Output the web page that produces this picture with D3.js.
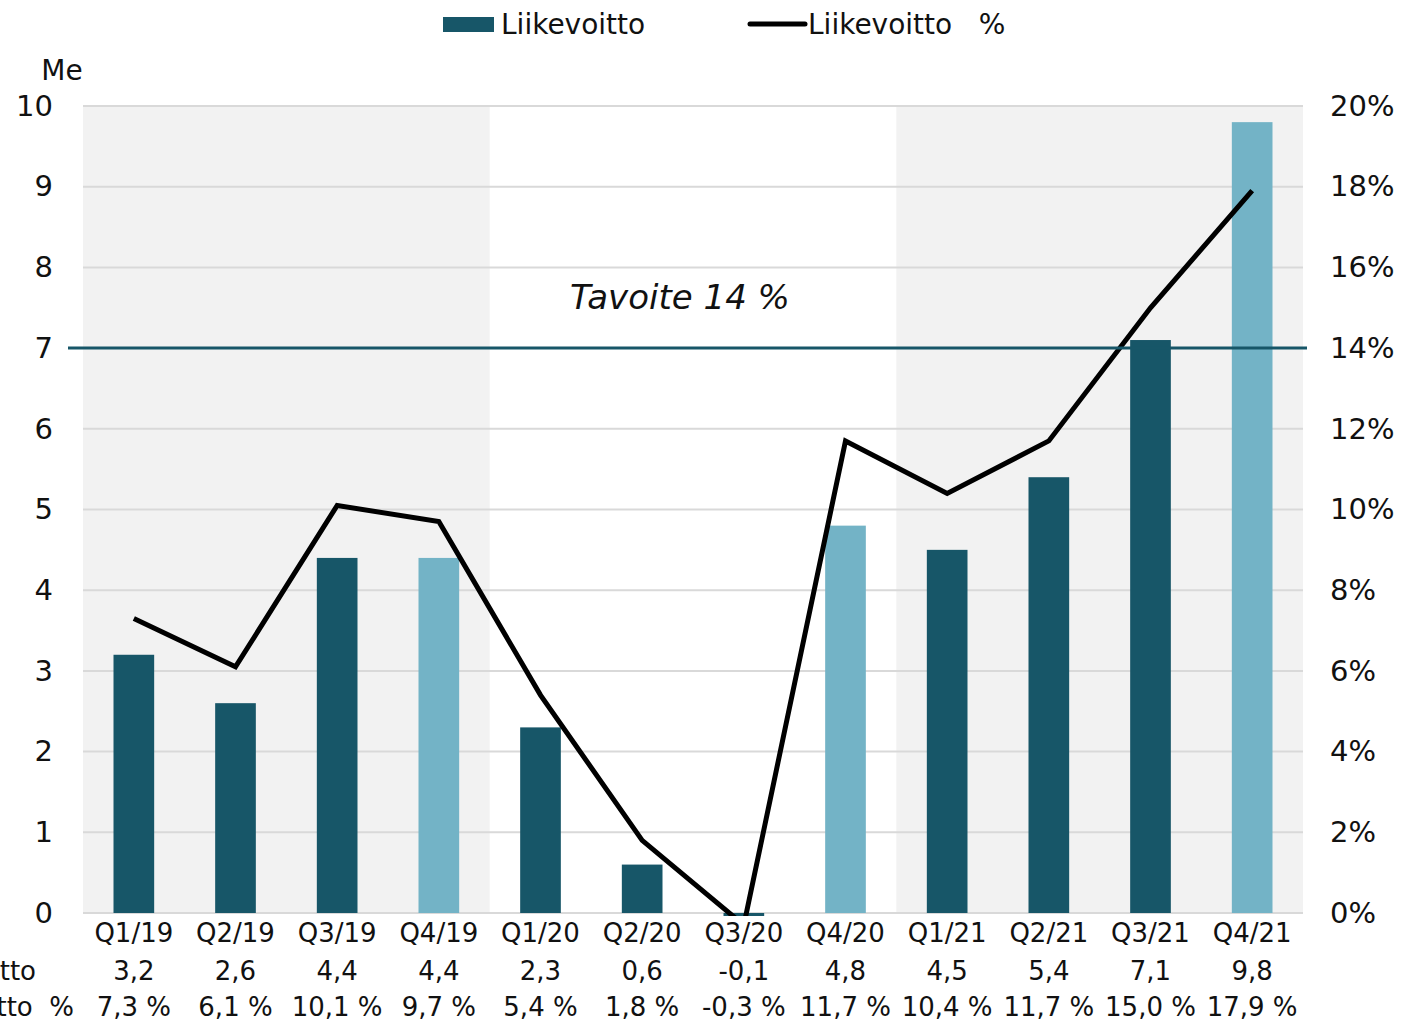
<!DOCTYPE html>
<html>
<head>
<meta charset="utf-8">
<script src="https://cdn.jsdelivr.net/npm/d3@7"></script>
<style>
  body { margin: 0; background: #fff; }
  svg { display: block; font-family: "DejaVu Sans", sans-serif; }
</style>
</head>
<body>
<div class="chart"></div>
<script>
// DATA
var quarters = ['Q1/19', 'Q2/19', 'Q3/19', 'Q4/19', 'Q1/20', 'Q2/20', 'Q3/20', 'Q4/20', 'Q1/21', 'Q2/21', 'Q3/21', 'Q4/21'];
var profit = [3.2, 2.6, 4.4, 4.4, 2.3, 0.6, -0.1, 4.8, 4.5, 5.4, 7.1, 9.8];
var profitPct = [7.3, 6.1, 10.1, 9.7, 5.4, 1.8, -0.3, 11.7, 10.4, 11.7, 15.0, 17.9];
var profitLabels = ['3,2', '2,6', '4,4', '4,4', '2,3', '0,6', '-0,1', '4,8', '4,5', '5,4', '7,1', '9,8'];
var pctLabels = ['7,3 %', '6,1 %', '10,1 %', '9,7 %', '5,4 %', '1,8 %', '-0,3 %', '11,7 %', '10,4 %', '11,7 %', '15,0 %', '17,9 %'];
var leftTicks = [0, 1, 2, 3, 4, 5, 6, 7, 8, 9, 10];
var rightTicks = [0, 2, 4, 6, 8, 10, 12, 14, 16, 18, 20];
var targetPct = 14;
var yearBands = [['Q1/19', 'Q4/19'], ['Q1/21', 'Q4/21']];
var lightBars = ['Q4/19', 'Q4/20', 'Q4/21'];

var W = 1402, H = 1023;
var plotLeft = 83, plotRight = 1303, plotTop = 106, plotBottom = 913;

var svg = d3.select('.chart').append('svg')
  .attr('width', W)
  .attr('height', H);

// values below zero get cut at the axis, like in the original
svg.append('clipPath').attr('id', 'plotclip')
  .append('rect')
  .attr('x', 0).attr('y', 0)
  .attr('width', W).attr('height', plotBottom + 3);

var x = d3.scaleBand().domain(quarters).range([plotLeft, plotRight]).paddingInner(0.6).paddingOuter(0.3);
var xStep = d3.scaleBand().domain(quarters).range([plotLeft, plotRight]);
var y = d3.scaleLinear().domain([0, 10]).range([plotBottom, plotTop]);
var y2 = d3.scaleLinear().domain([0, 20]).range([plotBottom, plotTop]);

// shaded years
svg.selectAll('rect.band')
  .data(yearBands)
  .enter()
  .append('rect')
  .attr('x', function (d) { return xStep(d[0]); })
  .attr('width', function (d) { return xStep(d[1]) + xStep.bandwidth() - xStep(d[0]); })
  .attr('y', y(10))
  .attr('height', y(0) - y(10))
  .attr('fill', '#f2f2f2');

// gridlines
svg.selectAll('line.grid')
  .data(leftTicks)
  .enter()
  .append('line')
  .attr('x1', plotLeft)
  .attr('x2', plotRight)
  .attr('y1', function (d) { return y(d); })
  .attr('y2', function (d) { return y(d); })
  .attr('stroke', '#d9d9d9')
  .attr('stroke-width', 2);

var plot = svg.append('g').attr('clip-path', 'url(#plotclip)');

// bars
plot.selectAll('rect.bar')
  .data(quarters)
  .enter()
  .append('rect')
  .attr('x', function (d) { return x(d); })
  .attr('width', x.bandwidth())
  .attr('y', function (d, i) { return y(Math.max(0, profit[i])); })
  .attr('height', function (d, i) { return Math.abs(y(profit[i]) - y(0)); })
  .attr('fill', function (d) { return lightBars.indexOf(d) >= 0 ? '#73b3c6' : '#175668'; });

// target line
svg.append('line')
  .attr('x1', 68)
  .attr('x2', 1307)
  .attr('y1', y2(targetPct))
  .attr('y2', y2(targetPct))
  .attr('stroke', '#175668')
  .attr('stroke-width', 3);

svg.append('text')
  .attr('x', 680)
  .attr('y', 309)
  .attr('text-anchor', 'middle')
  .attr('font-size', 34)
  .attr('font-style', 'italic')
  .attr('fill', '#111')
  .text('Tavoite 14 %');

// pct line
var line = d3.line()
  .x(function (d, i) { return x(quarters[i]) + x.bandwidth() / 2; })
  .y(function (d) { return y2(d); });

plot.append('path')
  .datum(profitPct)
  .attr('d', line)
  .attr('fill', 'none')
  .attr('stroke', '#000')
  .attr('stroke-width', 5);

// left axis
var yAxis = svg.append('g')
  .attr('transform', 'translate(53,0)')
  .call(d3.axisLeft(y).tickValues(leftTicks).tickSize(0).tickPadding(0));
yAxis.select('.domain').remove();
yAxis.selectAll('text').attr('font-size', 29).attr('fill', '#111').attr('font-family', '"DejaVu Sans", sans-serif');

svg.append('text')
  .attr('x', 62)
  .attr('y', 80)
  .attr('text-anchor', 'middle')
  .attr('font-size', 28)
  .attr('fill', '#111')
  .text('Me');

// right axis
var yAxis2 = svg.append('g')
  .attr('transform', 'translate(1330,0)')
  .call(d3.axisRight(y2).tickValues(rightTicks).tickSize(0).tickPadding(0).tickFormat(function (d) { return d + '%'; }));
yAxis2.select('.domain').remove();
yAxis2.selectAll('text').attr('font-size', 29).attr('fill', '#111').attr('font-family', '"DejaVu Sans", sans-serif');

// category labels + table rows
var rows = [
  {labels: quarters, y: 942},
  {labels: profitLabels, y: 980},
  {labels: pctLabels, y: 1016}
];
rows.forEach(function (r) {
  svg.append('g').selectAll('text')
    .data(r.labels)
    .enter()
    .append('text')
    .attr('x', function (d, i) { return x(quarters[i]) + x.bandwidth() / 2; })
    .attr('y', r.y)
    .attr('text-anchor', 'middle')
    .attr('font-size', 26)
    .attr('fill', '#111')
    .text(function (d) { return d; });
});
svg.append('text').attr('x', 36).attr('y', 980).attr('text-anchor', 'end')
  .attr('font-size', 26).attr('fill', '#111').text('Liikevoitto');
svg.append('text').attr('x', 74).attr('y', 1016).attr('text-anchor', 'end')
  .attr('font-size', 26).attr('fill', '#111').style('white-space', 'pre').text('Liikevoitto  %');

// legend
svg.append('rect')
  .attr('x', 443).attr('y', 17).attr('width', 51).attr('height', 15)
  .attr('fill', '#175668');
svg.append('text')
  .attr('x', 501).attr('y', 34)
  .attr('font-size', 28).attr('fill', '#111')
  .text('Liikevoitto');
svg.append('line')
  .attr('x1', 750).attr('x2', 805).attr('y1', 24).attr('y2', 24)
  .attr('stroke', '#000').attr('stroke-width', 5).attr('stroke-linecap', 'round');
svg.append('text')
  .attr('x', 808).attr('y', 34)
  .attr('font-size', 28).attr('fill', '#111')
  .style('white-space', 'pre')
  .text('Liikevoitto   %');
</script>
</body>
</html>
